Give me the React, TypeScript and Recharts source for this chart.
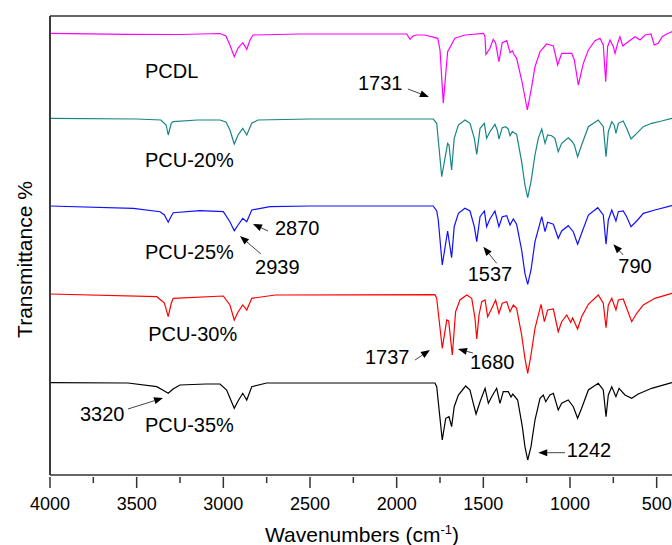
import {
  LineChart,
  Line,
  XAxis,
  YAxis,
  ReferenceLine,
  ReferenceDot,
} from "recharts";

// FTIR spectra, stacked (arbitrary transmittance units, offset per sample)
const pcdl: [number, number][] = [
  [4000, 441.7], [3556, 440.7], [3250, 440.5], [3019, 441.5], [2985, 439], [2962, 430],
  [2937, 418.3], [2915, 427], [2888, 432.3], [2865, 425.7], [2846, 435], [2829, 440],
  [2558, 441], [2269, 441], [1942, 441], [1923, 435.7], [1906, 439], [1885, 440],
  [1837, 440], [1763, 436.7], [1750, 425], [1731, 371.7], [1706, 423.3], [1664, 436.7],
  [1606, 440], [1500, 441.7], [1491, 439], [1485, 420.7], [1462, 426.7], [1443, 435.7],
  [1429, 431.7], [1410, 413.3], [1391, 432.3], [1365, 434.3], [1346, 422.3], [1333, 424.3],
  [1321, 420], [1308, 416.7], [1279, 395], [1246, 365], [1221, 388.3], [1202, 408.3],
  [1173, 423.3], [1135, 431], [1096, 429], [1071, 410], [1048, 421.7], [990, 421.7],
  [975, 415], [952, 390], [923, 411.7], [894, 425], [856, 434.3], [827, 436.7],
  [808, 430], [794, 393.3], [783, 428.3], [769, 435], [750, 428.3], [740, 421.7],
  [725, 431.7], [712, 438.3], [696, 429], [664, 433.3], [625, 438.3], [596, 435],
  [567, 440], [533, 441], [514, 430], [491, 431.7], [468, 438.3], [442, 441],
  [413, 443.3], [400, 444],
];

const pcu20: [number, number][] = [
  [4000, 356.7], [3500, 356], [3360, 355], [3330, 350], [3318, 340], [3300, 352],
  [3289, 353.3], [3150, 355], [3019, 355], [2985, 353], [2962, 345], [2937, 331],
  [2915, 340], [2888, 346.7], [2865, 340], [2836, 351.7], [2800, 355], [2500, 356],
  [1789, 356], [1769, 351.7], [1740, 298.3], [1706, 331.7], [1698, 330], [1683, 305],
  [1668, 336.7], [1644, 350], [1606, 355], [1577, 351.7], [1552, 336.7], [1538, 320.7],
  [1519, 346.7], [1494, 351.7], [1481, 336.7], [1462, 343.3], [1433, 350.7], [1420, 345],
  [1410, 336], [1391, 347.3], [1371, 348.3], [1356, 346], [1346, 339.3], [1333, 343.3],
  [1308, 340.7], [1279, 313.3], [1260, 290], [1244, 277.3], [1225, 293.3], [1202, 320],
  [1183, 336.7], [1163, 346], [1144, 331.7], [1129, 340], [1106, 339.3], [1087, 336.7],
  [1068, 323.3], [1048, 331.7], [1010, 337.3], [990, 334], [975, 330], [956, 318.3],
  [933, 330], [894, 348.3], [837, 355], [808, 348.3], [792, 318.3], [779, 343.3],
  [759, 353.3], [745, 350], [735, 341.7], [721, 351.7], [693, 354], [673, 346.7],
  [648, 336], [615, 341.7], [577, 348.3], [529, 351.7], [471, 354], [413, 356.7],
  [400, 357],
];

const pcu25: [number, number][] = [
  [4000, 269], [3519, 266.7], [3365, 263.3], [3340, 260], [3318, 252.7], [3300, 259],
  [3289, 262.3], [3135, 264.3], [3000, 263.3], [2962, 253.3], [2937, 244.3], [2915, 250],
  [2888, 256.7], [2865, 253.3], [2836, 265], [2731, 268.3], [2500, 269], [1789, 269],
  [1769, 264], [1760, 255], [1737, 210], [1706, 244], [1683, 217.3], [1668, 248.3],
  [1644, 261.7], [1606, 266.7], [1577, 264], [1552, 248.3], [1538, 233.3], [1519, 258.3],
  [1494, 264], [1481, 248.3], [1462, 256], [1433, 264], [1410, 248.3], [1391, 258.3],
  [1365, 259.3], [1346, 250], [1327, 256], [1308, 250.7], [1279, 225], [1260, 201.7],
  [1244, 190.7], [1225, 205], [1202, 233.3], [1163, 258.3], [1144, 243.3], [1129, 252.7],
  [1096, 250.7], [1068, 236.7], [1048, 244], [1010, 249.3], [981, 243.3], [956, 230.7],
  [933, 241.7], [894, 260], [840, 267.3], [808, 260], [792, 230.7], [779, 255],
  [759, 265], [735, 254], [721, 263.3], [693, 264], [673, 258.3], [648, 248.3],
  [615, 254], [577, 261.7], [510, 265], [413, 269.3], [400, 270],
];

const pcu30: [number, number][] = [
  [4000, 181], [3384, 178.3], [3340, 172], [3318, 158.3], [3300, 172], [3289, 176.7],
  [3000, 179], [2962, 170], [2937, 155], [2915, 163], [2888, 170], [2865, 165],
  [2836, 176.7], [2700, 180], [1779, 180.3], [1769, 176.7], [1737, 126.7], [1711, 155],
  [1700, 154], [1679, 120], [1660, 163.3], [1635, 175], [1596, 180], [1567, 176.7],
  [1548, 156.7], [1538, 136], [1525, 160], [1509, 173.3], [1490, 175], [1475, 158.3],
  [1456, 165], [1429, 175], [1410, 161.7], [1391, 171.7], [1365, 173.3], [1346, 163.3],
  [1327, 170], [1308, 166.7], [1279, 140], [1260, 116.7], [1244, 101.7], [1225, 120],
  [1202, 146.7], [1167, 170.7], [1148, 153.3], [1129, 165], [1096, 166], [1068, 143.3],
  [1048, 153.3], [1019, 160], [996, 152.7], [985, 157], [956, 146], [933, 158.3],
  [894, 170.7], [837, 180], [808, 171.7], [792, 147.3], [779, 170], [759, 176.7],
  [735, 165], [721, 175], [693, 176], [673, 166.7], [644, 153.3], [615, 161.7],
  [577, 170], [510, 176.7], [413, 181.7], [400, 182],
];

const pcu35: [number, number][] = [
  [4000, 92.3], [3550, 92], [3384, 88.3], [3350, 85], [3318, 81.7], [3290, 86],
  [3250, 90], [3100, 91], [3019, 91], [2981, 85], [2937, 66.7], [2915, 74],
  [2888, 81.7], [2865, 75], [2836, 88.3], [2750, 92], [1779, 92], [1769, 88.3],
  [1737, 35], [1717, 56.7], [1698, 58.3], [1683, 48.3], [1668, 68.3], [1644, 80],
  [1602, 89], [1577, 85], [1558, 71.7], [1542, 61], [1519, 73.3], [1490, 86.7],
  [1471, 71.7], [1452, 78.3], [1423, 86.7], [1404, 71.7], [1385, 83.3], [1356, 83.3],
  [1340, 78], [1330, 81], [1302, 75], [1275, 48.3], [1260, 28.3], [1244, 15],
  [1225, 28.3], [1202, 55], [1173, 76.7], [1154, 80], [1140, 73.3], [1116, 80],
  [1096, 81.7], [1068, 65], [1048, 71.7], [1010, 75], [981, 68.3], [956, 56.7],
  [933, 66.7], [894, 85], [837, 91.7], [808, 85], [792, 58.3], [779, 80],
  [759, 88.3], [735, 78.3], [717, 86.7], [683, 80], [644, 76.7], [606, 81],
  [529, 86.7], [413, 92.3], [400, 93],
];

const majorTicks = [4000, 3500, 3000, 2500, 2000, 1500, 1000, 500];
const minorTicks = [3750, 3250, 2750, 2250, 1750, 1250, 750];

// text labels: [text, wavenumber (left edge), level]
const labels: [string, number, number][] = [
  ["PCDL", 3452, 404],
  ["PCU-20%", 3452, 315],
  ["PCU-25%", 3452, 223.3],
  ["PCU-30%", 3433, 141.7],
  ["PCU-35%", 3452, 50],
  ["3320", 3827, 61],
  ["2939", 2817, 208.3],
  ["2870", 2702, 247],
  ["1731", 2223, 392],
  ["1737", 2183, 118.3],
  ["1680", 1577, 113],
  ["1537", 1590, 201.7],
  ["790", 721, 209.3],
  ["1242", 1019, 25],
];

// arrows: [tailWn, tailLevel, headWn, headLevel]
const arrows: [number, number, number, number][] = [
  [1935, 386, 1814, 378],
  [2742, 244, 2829, 251],
  [2783, 221, 2904, 239],
  [3550, 66, 3348, 77],
  [1894, 115, 1808, 125],
  [1560, 122, 1646, 126],
  [1423, 211.7, 1500, 228.3],
  [693, 220, 750, 230.7],
  [1029, 22.3, 1183, 22.3],
];

const series = [
  { name: "PCDL", pts: pcdl, color: "#ff00ff" },
  { name: "PCU-20%", pts: pcu20, color: "#168585" },
  { name: "PCU-25%", pts: pcu25, color: "#1010ff" },
  { name: "PCU-30%", pts: pcu30, color: "#ff0000" },
  { name: "PCU-35%", pts: pcu35, color: "#000000" },
];

const FONT = "'Liberation Sans', Arial, Helvetica, sans-serif";
const AXIS = "#333333";

function WnTick(props: any) {
  const { x, y, payload } = props;
  const major = payload.value % 500 === 0;
  return (
    <g>
      <line x1={x} x2={x} y1={y} y2={y + (major ? 11 : 6)} stroke={AXIS} strokeWidth={1.5} />
      {major && (
        <text x={x} y={y + 27} dy="0.36em" textAnchor="middle" fontSize={18} fontFamily={FONT} fill="#000">
          {payload.value}
        </text>
      )}
    </g>
  );
}

function Arrow(props: any) {
  const { x1, y1, x2, y2 } = props;
  if (x1 == null || x2 == null) return null;
  const dx = x2 - x1;
  const dy = y2 - y1;
  const len = Math.sqrt(dx * dx + dy * dy) || 1;
  const ux = dx / len;
  const uy = dy / len;
  const hl = 9;
  const hw = 3.5;
  const bx = x2 - ux * hl;
  const by = y2 - uy * hl;
  return (
    <g>
      <line x1={x1} y1={y1} x2={bx} y2={by} stroke="#444" strokeWidth={1} />
      <polygon
        points={`${x2},${y2} ${bx - uy * hw},${by + ux * hw} ${bx + uy * hw},${by - ux * hw}`}
        fill="#000"
      />
    </g>
  );
}

export default function App() {
  return (
    <div
      style={{
        position: "absolute",
        left: 0,
        top: 0,
        width: 672,
        height: 545,
        overflow: "hidden",
        background: "#fff",
      }}
    >
      <LineChart width={700} height={545} margin={{ top: 16, right: 26, left: 49, bottom: 0 }}>
        <XAxis
          dataKey="wn"
          type="number"
          domain={[400, 4000]}
          reversed
          ticks={[...majorTicks, ...minorTicks].sort((a, b) => b - a)}
          interval={0}
          tickSize={0}
          tickLine={false}
          tick={<WnTick />}
          height={70}
          axisLine={{ stroke: AXIS, strokeWidth: 1.6 }}
          allowDataOverflow
          label={(p: any) => {
            const vb = p.viewBox;
            return (
              <text
                x={vb.x + vb.width / 2}
                y={vb.y + 59}
                dy="0.36em"
                textAnchor="middle"
                fontSize={21}
                fontFamily={FONT}
                fill="#000"
              >
                Wavenumbers (cm
                <tspan dy={-8} fontSize={13}>-1</tspan>
                <tspan dy={8}>)</tspan>
              </text>
            );
          }}
        />
        <YAxis
          type="number"
          domain={[0, 459]}
          width={1}
          tick={false}
          tickLine={false}
          axisLine={{ stroke: AXIS, strokeWidth: 1.6 }}
          allowDataOverflow
          label={(p: any) => {
            const vb = p.viewBox;
            const cx = 24;
            const cy = vb.y + vb.height / 2 + 14;
            return (
              <text
                x={cx}
                y={cy}
                dy="0.36em"
                textAnchor="middle"
                fontSize={21}
                fontFamily={FONT}
                fill="#000"
                transform={`rotate(-90 ${cx} ${cy})`}
              >
                Transmittance %
              </text>
            );
          }}
        />
        <ReferenceLine y={459} stroke={AXIS} strokeWidth={1.6} ifOverflow="visible" />
        <ReferenceLine x={4000} stroke={AXIS} strokeWidth={1.6} ifOverflow="visible" />
        {series.map((s) => (
          <Line
            key={s.name}
            name={s.name}
            data={s.pts.map(([wn, t]) => ({ wn, t }))}
            dataKey="t"
            type="linear"
            stroke={s.color}
            strokeWidth={1.2}
            dot={false}
            activeDot={false}
            isAnimationActive={false}
          />
        ))}
        {arrows.map(([tw, tl, hw, hl], i) => (
          <ReferenceLine
            key={`a${i}`}
            segment={[
              { x: tw, y: tl },
              { x: hw, y: hl },
            ]}
            shape={<Arrow />}
          />
        ))}
        {labels.map(([txt, wn, lvl]) => (
          <ReferenceDot
            key={txt}
            x={wn}
            y={lvl}
            r={0}
            shape={(p: any) => (
              <text
                x={p.cx}
                y={p.cy}
                dy="0.36em"
                textAnchor="start"
                fontSize={20}
                fontFamily={FONT}
                fill="#000"
              >
                {txt}
              </text>
            )}
          />
        ))}
      </LineChart>
    </div>
  );
}
